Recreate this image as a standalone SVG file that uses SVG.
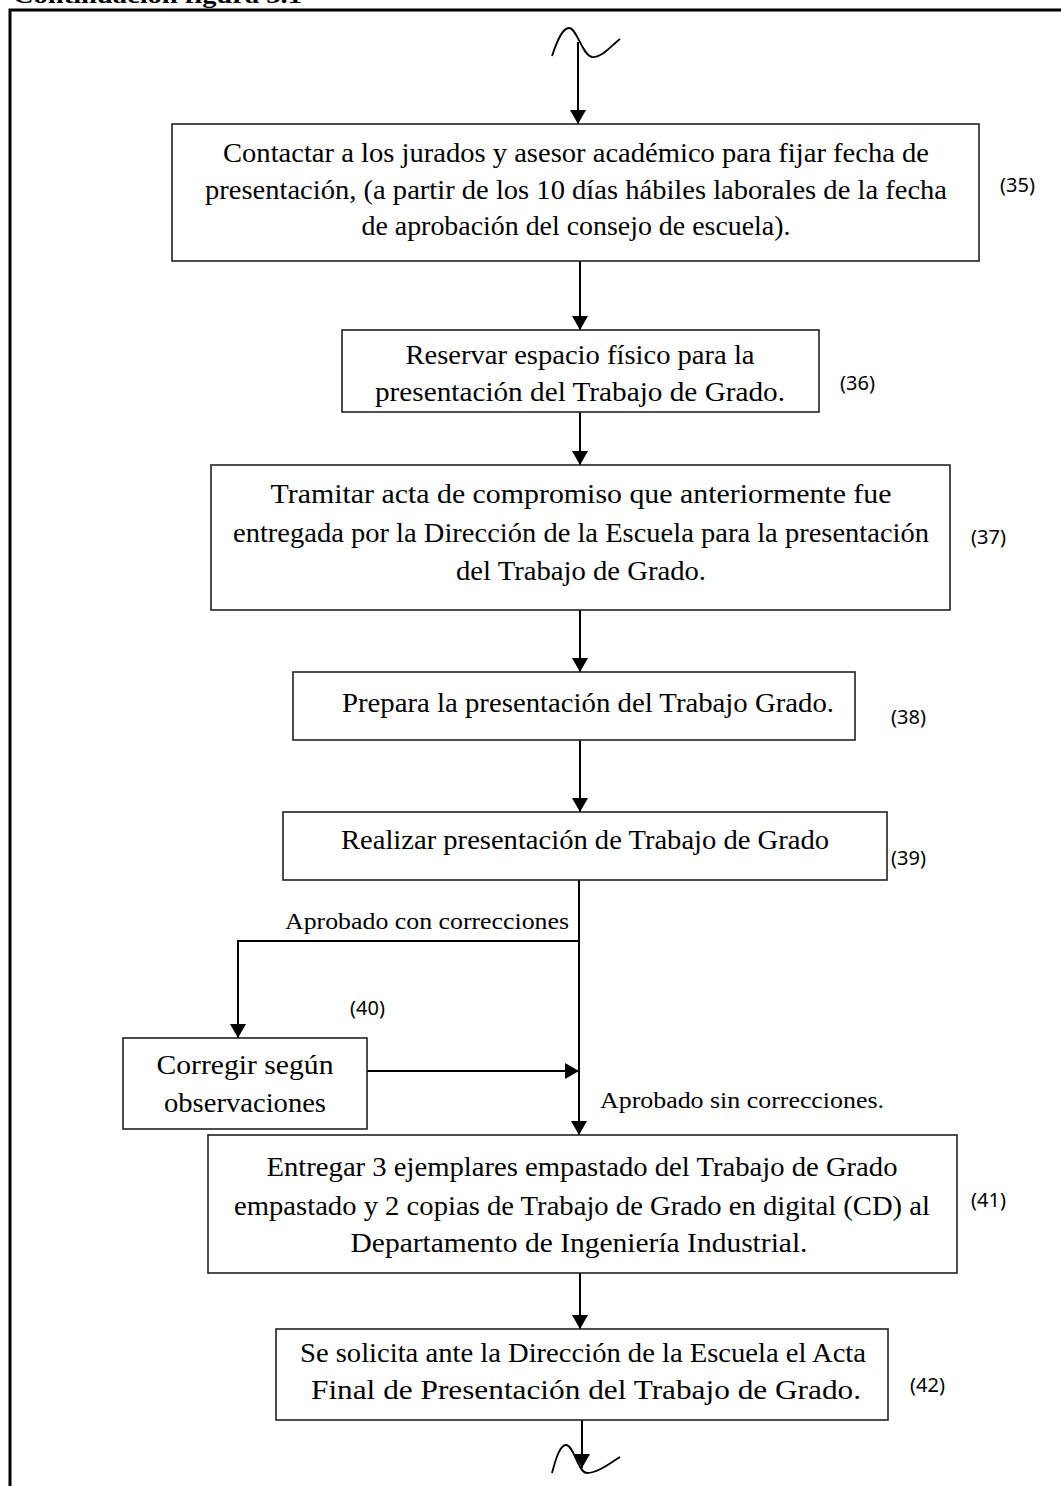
<svg xmlns="http://www.w3.org/2000/svg" width="1061" height="1486" viewBox="0 0 1061 1486">
<defs>
<style>
.box{fill:#fff;stroke:#222;stroke-width:1.6}
.t{font-family:"Liberation Serif","Times New Roman",serif;font-size:28px;fill:#000;text-anchor:middle}
.l{font-family:"Liberation Serif","Times New Roman",serif;font-size:23px;fill:#000}
.n{font-family:"Noto Sans","Open Sans",sans-serif;font-size:20px;fill:#000}
.c{fill:none;stroke:#000;stroke-width:2}
.sq{fill:none;stroke:#000;stroke-width:1.8}
</style>
<marker id="ah" viewBox="0 0 14 16" refX="14" refY="8" markerWidth="14" markerHeight="16" markerUnits="userSpaceOnUse" orient="auto">
<path d="M0,0 L14,8 L0,16 Z" fill="#000"/>
</marker>
</defs>
<rect width="1061" height="1486" fill="#fff"/>
<text x="13" y="3" font-family="Liberation Serif, serif" font-size="24" font-weight="bold" textLength="289" lengthAdjust="spacingAndGlyphs">Continuación figura 3.1</text>
<path d="M10,1486 L10,10 L1061,10" fill="none" stroke="#000" stroke-width="3"/>

<g id="connectors">
<path class="sq" d="M552,56 C558,38 563,28 569,28 C577,28 582,55 592,57 C602,58 612,45 620,39"/>
<line class="c" x1="578" y1="42" x2="578" y2="124" marker-end="url(#ah)"/>
<line class="c" x1="580" y1="261" x2="580" y2="330" marker-end="url(#ah)"/>
<line class="c" x1="580" y1="412" x2="580" y2="465" marker-end="url(#ah)"/>
<line class="c" x1="580" y1="610" x2="580" y2="672" marker-end="url(#ah)"/>
<line class="c" x1="580" y1="740" x2="580" y2="812" marker-end="url(#ah)"/>
<line class="c" x1="579" y1="880" x2="579" y2="1135" marker-end="url(#ah)"/>
<polyline class="c" points="579,941 238,941 238,1038" marker-end="url(#ah)"/>
<line class="c" x1="367" y1="1071" x2="579" y2="1071" marker-end="url(#ah)"/>
<line class="c" x1="580" y1="1273" x2="580" y2="1329" marker-end="url(#ah)"/>
<line class="c" x1="582" y1="1420" x2="582" y2="1468" marker-end="url(#ah)"/>
<path class="sq" d="M552,1473 C556,1458 560,1445 566,1445 C574,1445 578,1473 587,1473 C598,1473 610,1463 620,1457"/>
<text class="l" x="285" y="929" textLength="284" lengthAdjust="spacingAndGlyphs">Aprobado con correcciones</text>
<text class="l" x="600" y="1108" textLength="284" lengthAdjust="spacingAndGlyphs">Aprobado sin correcciones.</text>
</g>

<g id="n35">
<rect class="box" x="172" y="124" width="807" height="137"/>
<text class="t" x="576" y="162" textLength="706" lengthAdjust="spacingAndGlyphs">Contactar a los jurados y asesor académico para fijar fecha de</text>
<text class="t" x="576" y="199" textLength="742" lengthAdjust="spacingAndGlyphs">presentación, (a partir de los 10 días hábiles laborales de la fecha</text>
<text class="t" x="576" y="235" textLength="429" lengthAdjust="spacingAndGlyphs">de aprobación del consejo de escuela).</text>
<text class="n" x="1000" y="192">(35)</text>
</g>

<g id="n36">
<rect class="box" x="342" y="330" width="477" height="82"/>
<text class="t" x="580" y="364" textLength="349" lengthAdjust="spacingAndGlyphs">Reservar espacio físico para la</text>
<text class="t" x="580" y="401" textLength="410" lengthAdjust="spacingAndGlyphs">presentación del Trabajo de Grado.</text>
<text class="n" x="840" y="390">(36)</text>
</g>

<g id="n37">
<rect class="box" x="211" y="465" width="739" height="145"/>
<text class="t" x="581" y="503" textLength="621" lengthAdjust="spacingAndGlyphs">Tramitar acta de compromiso que anteriormente fue</text>
<text class="t" x="581" y="542" textLength="696" lengthAdjust="spacingAndGlyphs">entregada por la Dirección de la Escuela para la presentación</text>
<text class="t" x="581" y="580" textLength="250" lengthAdjust="spacingAndGlyphs">del Trabajo de Grado.</text>
<text class="n" x="971" y="544">(37)</text>
</g>

<g id="n38">
<rect class="box" x="293" y="672" width="562" height="68"/>
<text class="t" x="588" y="712" textLength="492" lengthAdjust="spacingAndGlyphs">Prepara la presentación del Trabajo Grado.</text>
<text class="n" x="891" y="724">(38)</text>
</g>

<g id="n39">
<rect class="box" x="283" y="812" width="604" height="68"/>
<text class="t" x="585" y="849" textLength="488" lengthAdjust="spacingAndGlyphs">Realizar presentación de Trabajo de Grado</text>
<text class="n" x="891" y="865">(39)</text>
</g>

<g id="n40">
<rect class="box" x="123" y="1038" width="244" height="91"/>
<text class="t" x="245" y="1074" textLength="177" lengthAdjust="spacingAndGlyphs">Corregir  según</text>
<text class="t" x="245" y="1112" textLength="162" lengthAdjust="spacingAndGlyphs">observaciones</text>
<text class="n" x="350" y="1015">(40)</text>
</g>

<g id="n41">
<rect class="box" x="208" y="1135" width="749" height="138"/>
<text class="t" x="582" y="1176" textLength="631" lengthAdjust="spacingAndGlyphs">Entregar 3 ejemplares empastado del Trabajo de Grado</text>
<text class="t" x="582" y="1215" textLength="696" lengthAdjust="spacingAndGlyphs">empastado y 2 copias de Trabajo de Grado en digital (CD) al</text>
<text class="t" x="579" y="1252" textLength="457" lengthAdjust="spacingAndGlyphs">Departamento de Ingeniería Industrial.</text>
<text class="n" x="971" y="1207">(41)</text>
</g>

<g id="n42">
<rect class="box" x="276" y="1329" width="612" height="91"/>
<text class="t" x="583" y="1362" textLength="566" lengthAdjust="spacingAndGlyphs">Se solicita ante la Dirección de la Escuela el Acta</text>
<text class="t" x="586" y="1399" textLength="550" lengthAdjust="spacingAndGlyphs">Final de Presentación del Trabajo de Grado.</text>
<text class="n" x="910" y="1392">(42)</text>
</g>
</svg>
